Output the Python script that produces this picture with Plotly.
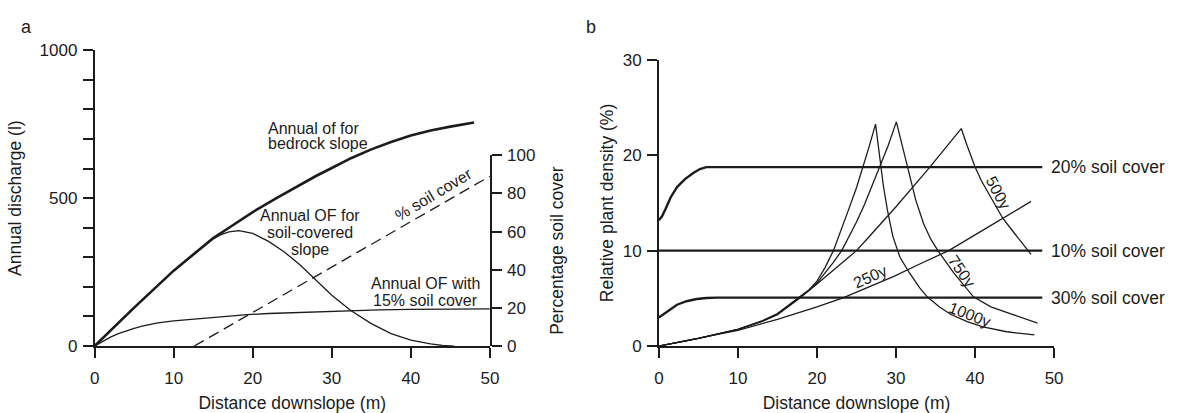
import plotly.graph_objects as go

# ---------------- Panel a: discharge along a slope ----------------
bedrock_x = [0, 5, 10, 13.45, 15, 17, 20, 23, 26, 28, 30, 32.5, 35, 37.5, 40, 42.5, 45, 48]
bedrock_y = [0, 130, 255, 333, 365, 400, 453, 500, 545, 575, 602, 636, 665, 690, 712, 729, 742, 756]

soil_x = [0, 5, 10, 14, 15, 16, 17, 18.25, 20, 22, 24, 26, 28, 30, 32.4, 35, 37.5, 40, 42.5, 44, 45.5]
soil_y = [0, 130, 255, 343, 362, 377, 386, 390, 381, 354, 318, 274, 222, 172, 120, 76, 42, 20, 7, 2, 0]

cover15_x = [0, 1, 2, 3, 4, 5, 6, 7, 8, 10, 12, 14, 16, 19.3, 22, 26, 30, 32.4, 36, 40, 45, 50]
cover15_y = [0, 16, 30, 42, 52, 60, 67, 73, 78, 85, 90, 95, 99, 106, 110, 114, 118, 120, 122, 124, 125, 126]

pct_cover_x = [12.6, 50]
pct_cover_y = [0, 89]

discharge_ticks = list(range(0, 1001, 100))
discharge_labels = ["0", "", "", "", "", "500", "", "", "", "", "1000"]
cover_ticks = [0, 20, 40, 60, 80, 100]
distance_ticks = [0, 10, 20, 30, 40, 50]

# ---------------- Panel b: plant density ----------------
c20_x = [0, 0.4, 0.83, 1.5, 2.3, 3.3, 4.4, 5.2, 6, 48.5]
c20_y = [13.2, 13.6, 14.33, 15.6, 16.66, 17.5, 18.16, 18.55, 18.76, 18.76]
c10_x = [0, 48.5]
c10_y = [10, 10]
c30_x = [0, 1, 2.3, 3.5, 4.8, 6, 7.3, 48.5]
c30_y = [3.0, 3.6, 4.33, 4.7, 4.93, 5.03, 5.08, 5.08]

y250_x = [0, 5, 10, 15, 20, 23.3, 25, 29.8, 33, 36.66, 40, 43.5, 47.08]
y250_y = [0, 0.8, 1.65, 2.8, 4.1, 5.05, 5.65, 7.33, 8.6, 10, 11.65, 13.4, 15.16]

y500_x = [0, 5, 10, 13, 15, 17.8, 20, 22.5, 25, 26.45, 30, 34.2, 38.25,
          39, 40, 40.8, 42, 43.5, 45, 47.08]
y500_y = [0, 0.8, 1.75, 2.55, 3.3, 5.0, 6.5, 8.2, 10, 11.33, 14.6, 18.67, 22.8,
          21.0, 18.76, 17.33, 15.6, 13.4, 11.8, 9.6]

y750_x = [0, 5, 10, 13, 15, 17.8, 19, 20, 21, 22, 23.13, 24, 25, 26, 27, 27.9, 29, 30.04,
          31.45, 32.5, 33.5, 34.4, 35.3, 37.3, 39.8, 42, 44.8, 47.9]
y750_y = [0, 0.8, 1.75, 2.6, 3.35, 5.1, 5.85, 6.6, 7.6, 8.7, 10, 11.4, 13.0, 14.8, 16.8, 18.67, 21.0, 23.5,
          18.76, 15.3, 12.8, 11.2, 10.0, 7.66, 5.16, 4.1, 3.3, 2.41]

y1000_x = [0, 5, 10, 13, 15, 17.8, 19, 20, 21, 22.08, 23, 24, 25, 25.8, 26.6, 27.41,
           27.9, 28.4, 28.9, 29.6, 30.5, 31.7, 33.0, 33.95, 35.5, 36.9, 39, 41, 44, 47.5]
y1000_y = [0, 0.8, 1.75, 2.6, 3.4, 5.1, 5.9, 6.8, 8.2, 10, 12.0, 14.3, 16.6, 18.67, 20.9, 23.26,
           19.8, 16.8, 14.3, 11.5, 9.3, 7.66, 6.1, 5.16, 4.1, 3.33, 2.55, 2.0, 1.5, 1.16]

density_ticks = [0, 10, 20, 30]

INK = "#1c1c1c"
FONT = "Liberation Sans, Arial, Helvetica, sans-serif"
W, H = 1182, 413

fig = go.Figure()

def line(x, y, width, xa="x", ya="y", dash="solid"):
    fig.add_trace(go.Scatter(x=x, y=y, mode="lines", xaxis=xa, yaxis=ya,
                             line=dict(color=INK, width=width, dash=dash),
                             hoverinfo="skip", showlegend=False))

# panel a
line(cover15_x, cover15_y, 1.3)
line(bedrock_x, bedrock_y, 2.6)
line(soil_x, soil_y, 1.3)
line(pct_cover_x, pct_cover_y, 1.3, ya="y3", dash="11px,6px")

# panel b
line(c20_x, c20_y, 2.4, "x2", "y2")
line(c10_x, c10_y, 2.4, "x2", "y2")
line(c30_x, c30_y, 2.4, "x2", "y2")
for xs, ys in [(y250_x, y250_y), (y500_x, y500_y), (y750_x, y750_y), (y1000_x, y1000_y)]:
    line(xs, ys, 1.3, "x2", "y2")

# pixel -> paper helpers for the axis frames
def px(xp):
    return xp / W

def py(yp):
    return (H - yp) / H

axis_common = dict(showgrid=False, zeroline=False, showline=True, linecolor=INK, linewidth=1.6,
                   ticks="outside", ticklen=10, tickwidth=1.5, tickcolor=INK,
                   tickfont=dict(family=FONT, size=17, color=INK))
x_common = dict(axis_common, ticklabelstandoff=6)
y_common = dict(axis_common, ticklabelstandoff=2)

title_font = dict(family=FONT, size=17.5, color=INK)

fig.update_layout(
    width=W, height=H,
    margin=dict(l=0, r=0, t=0, b=0),
    paper_bgcolor="white", plot_bgcolor="rgba(0,0,0,0)",
    font=dict(family=FONT, color=INK),
    xaxis=dict(domain=[px(90.7), px(490.7)], range=[0, 50], anchor="y",
               tickmode="array", tickvals=distance_ticks,
               title=dict(text="Distance downslope (m)", font=title_font, standoff=10),
               **x_common),
    yaxis=dict(domain=[py(353.3), py(43.3)], range=[0, 1000], anchor="x",
               tickmode="array", tickvals=discharge_ticks, ticktext=discharge_labels,
               title=dict(text="Annual discharge (l)", font=title_font, standoff=13),
               **y_common),
    yaxis3=dict(domain=[py(353.3), py(153.3)], range=[0, 100], anchor="x", side="right",
                tickmode="array", tickvals=cover_ticks,
                title=dict(text="Percentage soil cover", font=title_font, standoff=16),
                **y_common),
    xaxis2=dict(domain=[px(661.7), px(1061.7)], range=[0, 50], anchor="y2",
                tickmode="array", tickvals=distance_ticks,
                title=dict(text="Distance downslope (m)", font=title_font, standoff=10),
                **x_common),
    yaxis2=dict(domain=[py(353.3), py(53.3)], range=[0, 30], anchor="x2",
                tickmode="array", tickvals=density_ticks,
                title=dict(text="Relative plant density (%)", font=title_font, standoff=5),
                **y_common),
)

ann_font = dict(family=FONT, size=16, color=INK)
lab_font = dict(family=FONT, size=17.5, color=INK)

def note(text, x, y, xref="x", yref="y", xanchor="center", angle=0, font=ann_font):
    fig.add_annotation(text=text, x=x, y=y, xref=xref, yref=yref, xanchor=xanchor,
                       yanchor="middle", textangle=angle, showarrow=False, font=font)

# curve labels, panel a
note("Annual of for", 21.66, 735, xanchor="left")
note("bedrock slope", 21.66, 684, xanchor="left")
note("Annual OF for", 27.2, 440)
note("soil-covered", 27.2, 385)
note("slope", 27.2, 328)
note("Annual OF with", 41.85, 211)
note("15% soil cover", 41.85, 153)
note("% soil cover", 42.85, 79.6, yref="y3", angle=-31)

# curve labels, panel b
note("20% soil cover", 49.3, 18.76, "x2", "y2", xanchor="left", font=lab_font)
note("10% soil cover", 49.3, 10.0, "x2", "y2", xanchor="left", font=lab_font)
note("30% soil cover", 49.3, 5.08, "x2", "y2", xanchor="left", font=lab_font)
note("250y", 26.8, 7.25, "x2", "y2", angle=-24)
note("500y", 42.9, 16.1, "x2", "y2", angle=62)
note("750y", 38.3, 7.8, "x2", "y2", angle=55)
note("1000y", 39.3, 3.33, "x2", "y2", angle=21)

# panel letters
note("a", px(22), py(19), "paper", "paper", font=dict(family=FONT, size=18, color=INK))
note("b", px(593), py(19), "paper", "paper", font=dict(family=FONT, size=18, color=INK))

fig.write_html("out.html")
